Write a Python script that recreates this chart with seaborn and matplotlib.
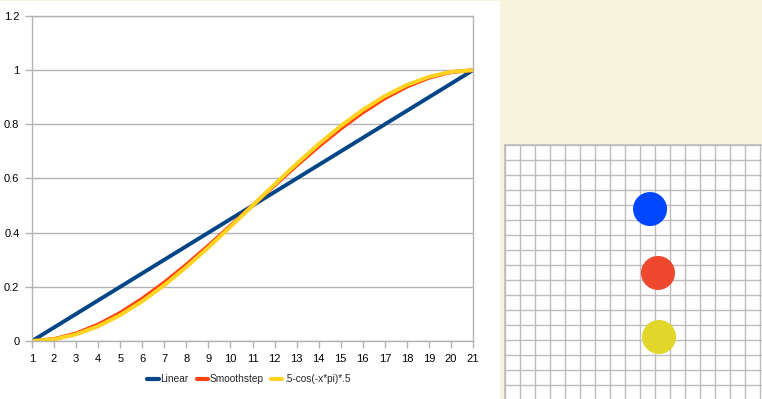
import numpy as np
import pandas as pd
import matplotlib.pyplot as plt
import seaborn as sns
from matplotlib.patches import Rectangle

sns.set_theme(style="white")
plt.rcParams['font.family'] = ['Liberation Sans', 'DejaVu Sans']

# chart data (21 steps)
steps = list(range(1, 22))
linear = [0, .05, .1, .15, .2, .25, .3, .35, .4, .45, .5,
          .55, .6, .65, .7, .75, .8, .85, .9, .95, 1]
smoothstep = [0, .00725, .028, .06075, .104, .15625, .216, .28175, .352, .42525, .5,
              .57475, .648, .71825, .784, .84375, .896, .93925, .972, .99275, 1]
cosine = [0, .00616, .02447, .0545, .09549, .14645, .20611, .273, .34549, .42178, .5,
          .57822, .65451, .727, .79389, .85355, .90451, .9455, .97553, .99384, 1]
series_names = ["Linear", "Smoothstep", ".5-cos(-x*pi)*.5"]
series_colors = ["#004586", "#FF420E", "#FFD320"]

# dots on the grid panel (grid-cell units, y from top)
dot_x = [9.67, 10.2, 10.27]
dot_y = [4.27, 8.53, 12.8]
dot_colors = ["#0047FF", "#EE482E", "#E2D62A"]

df = pd.DataFrame({
    "step": steps * 3,
    "value": linear + smoothstep + cosine,
    "series": [n for n in series_names for _ in steps],
})

W, H = 762, 399
fig = plt.figure(figsize=(W / 100, H / 100), dpi=100, facecolor="#F8F3DC")
fig.patches.append(Rectangle((0, 0), 500 / W, 398 / H, transform=fig.transFigure,
                             facecolor="white", edgecolor="none", zorder=-5))

ax = fig.add_axes([32 / W, (H - 341) / H, (473 - 32) / W, (341 - 16) / H])
sns.lineplot(data=df, x="step", y="value", hue="series", hue_order=series_names,
             palette=series_colors, linewidth=2.8, ax=ax, legend=False)
ax.set_xlim(1, 21)
ax.set_ylim(0, 1.2)
ax.set_xticks(steps)
ax.set_yticks([0, .2, .4, .6, .8, 1, 1.2])
ax.set_yticklabels(["0", "0.2", "0.4", "0.6", "0.8", "1", "1.2"])
ax.set_xlabel("")
ax.set_ylabel("")
ax.yaxis.grid(True, color="#b3b3b3", linewidth=1)
ax.set_axisbelow(True)
for s in ax.spines.values():
    s.set_color("#b3b3b3")
    s.set_linewidth(1)
ax.tick_params(axis="both", which="major", length=5, width=1, color="#b3b3b3",
               direction="out", labelsize=8, labelcolor="black", pad=4)
ax.tick_params(axis="x", bottom=True)
ax.tick_params(axis="y", left=True)

handles = [plt.Line2D([], [], color=c, linewidth=3) for c in series_colors]
ax.legend(handles, series_names, loc="upper center", bbox_to_anchor=(0.492, -0.075),
          ncol=3, frameon=False, fontsize=7.3, handlelength=1.1, handletextpad=0.15,
          columnspacing=0.8)

# grid panel on the right
px0, py0 = 505, 145
ax2 = fig.add_axes([px0 / W, 0, (W - px0) / W, (H - py0) / H])
ax2.set_facecolor("white")
ax2.set_xticks(np.arange(0, 18))
ax2.set_yticks(np.arange(0, 18))
ax2.grid(True, color="#bdbdbd", linewidth=1)
ax2.tick_params(length=0, labelbottom=False, labelleft=False)
for s in ax2.spines.values():
    s.set_visible(False)
for side in ["left", "top"]:
    ax2.spines[side].set_visible(True)
    ax2.spines[side].set_color("#bdbdbd")
sns.scatterplot(x=dot_x, y=dot_y, hue=[0, 1, 2], palette=dot_colors, s=600,
                linewidth=0, legend=False, ax=ax2, zorder=3)
ax2.set_xlim(0, (W - px0) / 15)
ax2.set_ylim((H - py0) / 15, 0)

fig.savefig("out.png", dpi=100, facecolor=fig.get_facecolor())
